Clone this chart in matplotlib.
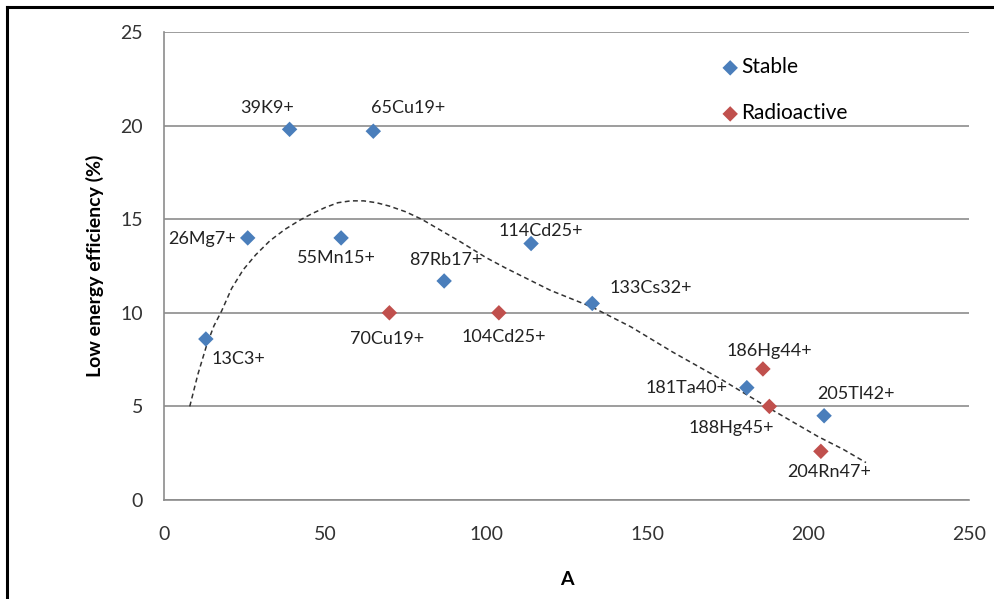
import matplotlib
matplotlib.use("Agg")
import matplotlib.pyplot as plt
from matplotlib.lines import Line2D

# ---- data ----
stable_names = ["13C3+", "26Mg7+", "39K9+", "55Mn15+", "65Cu19+", "87Rb17+",
                "114Cd25+", "133Cs32+", "181Ta40+", "205Tl42+"]
stable_A = [13, 26, 39, 55, 65, 87, 114, 133, 181, 205]
stable_eff = [8.6, 14.0, 19.8, 14.0, 19.7, 11.7, 13.7, 10.5, 6.0, 4.5]

radio_names = ["70Cu19+", "104Cd25+", "186Hg44+", "188Hg45+", "204Rn47+"]
radio_A = [70, 104, 186, 188, 204]
radio_eff = [10.0, 10.0, 7.0, 5.0, 2.6]

# hand-drawn dashed trend curve
trend_A = [8, 10.5, 13.3, 15.5, 17.9, 21, 24.6, 28.5, 32.9, 37.5, 42.2, 46,
           50, 54, 58, 62, 66, 70, 75, 80, 86, 92, 100, 106, 113, 120, 133,
           145, 158, 173, 187, 195, 203, 211, 218]
trend_eff = [5.0, 6.7, 8.3, 9.3, 10.1, 11.3, 12.3, 13.1, 13.85, 14.45, 14.95,
             15.3, 15.62, 15.88, 15.98, 15.98, 15.88, 15.7, 15.4, 15.0, 14.4,
             13.8, 12.95, 12.4, 11.8, 11.2, 10.3, 9.25, 7.9, 6.45, 5.0, 4.2,
             3.4, 2.7, 2.0]

x_ticks = [0, 50, 100, 150, 200, 250]
y_ticks = [0, 5, 10, 15, 20, 25]

# label offsets (pixels) relative to their markers
stable_off = [(33, -20), (-46, -1), (-23, 21), (-5, -20), (35, 23), (2, 21),
              (10, 13), (59, 15), (-60, 0), (32, 22)]
radio_off = [(-2, -26), (5, -24), (6, 18), (-38, -22), (8, -21)]

BLUE = "#4A7EBB"
RED = "#C0504D"
GRID = "#8C8C8C"
FONT = ["Lato", "DejaVu Sans"]

plt.rcParams["font.family"] = FONT

fig = plt.figure(figsize=(9.94, 5.99), dpi=100)
ax = fig.add_axes([164 / 994, 99 / 599, 805 / 994, 468 / 599])

ax.set_xlim(0, 250)
ax.set_ylim(0, 25)
ax.set_xticks(x_ticks)
ax.set_yticks(y_ticks)
ax.tick_params(length=0, labelsize=14, colors="#333333")
ax.tick_params(axis="y", pad=15)
ax.tick_params(axis="x", pad=19)

ax.grid(axis="y", color=GRID, linewidth=1.2)
ax.set_axisbelow(True)
for s in ["top", "right"]:
    ax.spines[s].set_visible(False)
for s in ["left", "bottom"]:
    ax.spines[s].set_color(GRID)
    ax.spines[s].set_linewidth(1.2)

ax.plot(trend_A, trend_eff, linestyle=(0, (3.2, 2.2)), color="#333333",
        linewidth=1.1, zorder=2)

ax.scatter(stable_A, stable_eff, marker="D", s=62, color=BLUE, zorder=3,
           label="Stable", edgecolors="none")
ax.scatter(radio_A, radio_eff, marker="D", s=62, color=RED, zorder=3,
           label="Radioactive", edgecolors="none")

for names, xs, ys, offs in [(stable_names, stable_A, stable_eff, stable_off),
                            (radio_names, radio_A, radio_eff, radio_off)]:
    for n, x, y, o in zip(names, xs, ys, offs):
        ax.annotate(n, (x, y), xytext=o, textcoords="offset pixels",
                    ha="center", va="center", fontsize=13, color="#222222",
                    zorder=4)

ax.set_xlabel("A", fontsize=14, fontweight="bold", labelpad=20)
ax.set_ylabel("Low energy efficiency (%)", fontsize=14, fontweight="bold",
              labelpad=12)

leg = ax.legend(loc="upper left", bbox_to_anchor=(549 / 805, 1 - 17 / 468),
                frameon=False, fontsize=15, handletextpad=0.1,
                labelspacing=1.25, handlelength=0.85, borderaxespad=0)

# black frame fragments at top and left of the figure
fig.add_artist(Line2D([7 / 994, 1.0], [1 - 7 / 599, 1 - 7 / 599],
                      color="black", linewidth=2.2, transform=fig.transFigure))
fig.add_artist(Line2D([7 / 994, 7 / 994], [0, 1 - 7 / 599],
                      color="black", linewidth=2.2, transform=fig.transFigure))

fig.savefig("out.png", dpi=100)
